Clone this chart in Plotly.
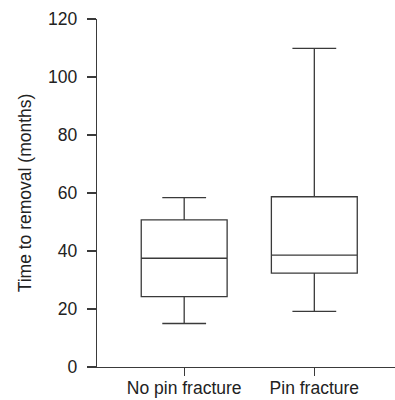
import plotly.graph_objects as go

categories = ["No pin fracture", "Pin fracture"]
lower_whisker = [15.0, 19.2]
q1_values = [24.3, 32.4]
median_values = [37.5, 38.6]
q3_values = [50.7, 58.7]
upper_whisker = [58.4, 109.9]

line_color = "#3a3a3a"
text_color = "#222222"

fig = go.Figure()
fig.add_trace(go.Box(
    x=categories,
    q1=q1_values,
    median=median_values,
    q3=q3_values,
    lowerfence=lower_whisker,
    upperfence=upper_whisker,
    width=0.66,
    whiskerwidth=0.51,
    fillcolor="rgba(0,0,0,0)",
    line=dict(color=line_color, width=1.3),
    boxpoints=False,
    showlegend=False,
    hoverinfo="skip",
))

font_family = "Liberation Sans, Arial, sans-serif"
fig.update_layout(
    width=395,
    height=400,
    margin=dict(l=97, r=0, t=19, b=33),
    paper_bgcolor="white",
    plot_bgcolor="white",
    font=dict(family=font_family, size=17.5, color=text_color),
    xaxis=dict(
        type="category",
        range=[-0.67, 1.62],
        showline=True,
        linecolor=line_color,
        linewidth=1.3,
        ticks="outside",
        ticklen=8,
        tickwidth=1.3,
        tickcolor=line_color,
        ticklabelstandoff=-3,
        showgrid=False,
        zeroline=False,
        tickfont=dict(size=17.5, family=font_family, color=text_color),
    ),
    yaxis=dict(
        range=[0, 120],
        tickvals=[0, 20, 40, 60, 80, 100, 120],
        showline=True,
        linecolor=line_color,
        linewidth=1.3,
        ticks="outside",
        ticklen=9,
        tickwidth=1.3,
        tickcolor=line_color,
        ticklabelstandoff=6,
        showgrid=False,
        zeroline=False,
        tickfont=dict(size=17.5, family=font_family, color=text_color),
        title=dict(text="Time to removal (months)", font=dict(size=17.5, family=font_family, color=text_color), standoff=12),
    ),
)

fig.write_html(
    "out.html",
    config={"displayModeBar": False, "staticPlot": True},
    post_script="document.body.style.margin='0';document.body.style.padding='0';",
)
